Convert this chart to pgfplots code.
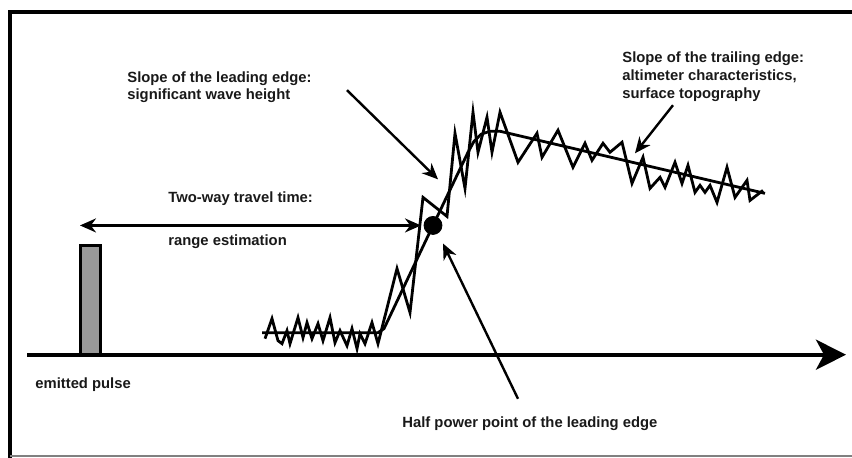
\documentclass[border=0pt]{standalone}
\usepackage{pgfplots}
\pgfplotsset{compat=1.18}
\usetikzlibrary{arrows.meta}
\usepackage{fontspec}
\setmainfont{Liberation Sans}
\tikzset{lbl/.style={inner sep=0pt, anchor=base west, font=\fontsize{7.4}{9}\selectfont\bfseries, text=black!90}}
\begin{document}
\begin{tikzpicture}
\begin{axis}[name=ax, width=426pt, height=228.5pt, scale only axis,
  xmin=0, xmax=852, ymin=0, ymax=457, y dir=reverse,
  hide axis, clip=false]
% frame
\draw[line width=2pt, line cap=rect] (axis cs:10,457) -- (axis cs:10,12) -- (axis cs:852,12);
\draw[gray, line width=1pt] (axis cs:10,455.5) -- (axis cs:852,455.5);
% base line
\draw[line width=2pt, -{Stealth[length=15pt,width=15pt,inset=4pt]}] (axis cs:27,354) -- (axis cs:846,354);
% emitted pulse
\addplot[fill=black!40, draw=black, line width=1.5pt, line join=miter] coordinates {(80,354) (80,245) (100,245) (100,354) (80,354)};
% smooth model waveform
\addplot[black, line width=1.4pt, line join=round] coordinates {
(262,332) (378,332) (384,328) (433,225) (468,152) (474,141) (481,134) (490,131) (500,131) (765,193)};
% noisy waveform
\addplot[black, line width=1.4pt, line join=miter] coordinates {
(265,338) (272,318) (278,340) (282,343) (287,330) (290,343) (298,317) (303,337) (307,322) (312,338)
(318,323) (323,340) (330,317) (335,342) (340,330) (347,345) (352,328) (357,348) (360,333) (365,343)
(372,322) (378,343) (397,268) (410,312) (423,197) (447,216) (455,133) (465,188) (473,112) (478,152)
(487,117) (492,152) (500,112) (518,162) (537,133) (542,157) (558,130) (573,167) (585,143) (592,160)
(603,143) (610,152) (622,142) (632,183) (643,157) (650,188) (660,177) (665,187) (675,162) (682,183)
(688,165) (695,192) (700,185) (705,192) (710,185) (717,202) (727,167) (735,197) (747,180) (750,200)
(763,190)};
% half power point
\addplot[only marks, mark=*, mark size=4.5pt, black] coordinates {(433,225)};
% arrows
\draw[line width=1.2pt, {Stealth[length=8pt,width=7pt]}-{Stealth[length=8pt,width=7pt]}] (axis cs:80,225) -- (axis cs:421,225);
\draw[line width=1.2pt, -{Stealth[length=8pt,width=7pt]}] (axis cs:347,90) -- (axis cs:438,179);
\draw[line width=1.2pt, -{Stealth[length=8pt,width=7pt]}] (axis cs:518,398) -- (axis cs:443,243);
\draw[line width=1.2pt, -{Stealth[length=8pt,width=7pt]}] (axis cs:673,105) -- (axis cs:635,153);
% labels
\node[lbl] at (axis cs:127,82) {Slope of the leading edge:};
\node[lbl] at (axis cs:127,99) {significant wave height};
\node[lbl] at (axis cs:168,202) {Two-way travel time:};
\node[lbl] at (axis cs:168,245) {range estimation};
\node[lbl] at (axis cs:35,388) {emitted pulse};
\node[lbl] at (axis cs:402,427) {Half power point of the leading edge};
\node[lbl] at (axis cs:622,62) {Slope of the trailing edge:};
\node[lbl] at (axis cs:622,80) {altimeter characteristics,};
\node[lbl] at (axis cs:622,98) {surface topography};
\end{axis}
\pgfresetboundingbox
\path (ax.south west) rectangle (ax.north east);
\end{tikzpicture}
\end{document}
